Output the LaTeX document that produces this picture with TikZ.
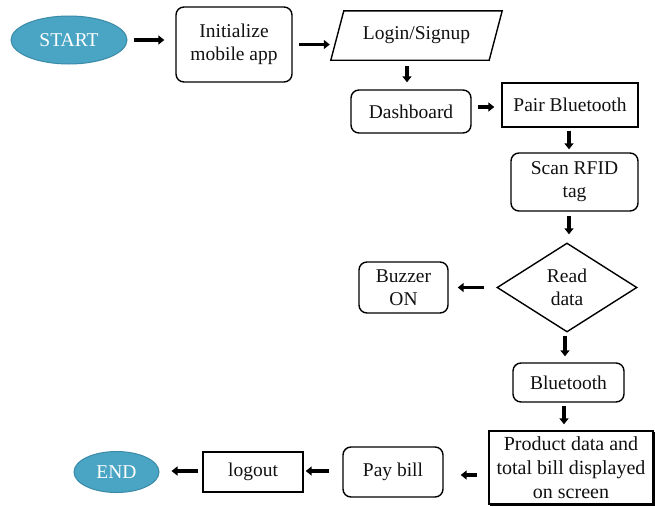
\documentclass[tikz,border=0pt]{standalone}
\usepackage{fontspec}
\setmainfont{Liberation Serif}
\newfontfamily\diagfont{Liberation Serif}
\usetikzlibrary{arrows.meta,shapes.geometric,calc}
\definecolor{termfill}{HTML}{4AA5C4}
\definecolor{termdraw}{HTML}{3A8AA8}
\definecolor{inkblack}{HTML}{111111}
\begin{document}
\begin{tikzpicture}[x=1pt,y=-1pt,
  every node/.style={inner sep=0pt,align=center,text=inkblack,font=\diagfont\fontsize{19.5}{23}\selectfont},
  term/.style={ellipse,fill=termfill,draw=termdraw,line width=1pt,text=white},
  rbox/.style={draw=black,line width=1.4pt,rounded corners=8pt},
  sbox/.style={draw=black,line width=1.4pt},
  arr/.style={line width=3.2pt,-{Triangle[length=6pt,width=9pt]}}]
\useasboundingbox[fill=white] (0,0) rectangle (655,506);
% nodes
\node[term,minimum width=116pt,minimum height=48pt] (start) at (69,40) {START};
\node[rbox,minimum width=116pt,minimum height=75pt] (init) at (234,44.5) {Initialize\\mobile app};
\node[minimum width=171pt,minimum height=49pt] (login) at (416.5,35.5) {Login/Signup};
\draw[line width=1.4pt] (login.south west) -- ($(login.south east)+(-13,0)$) -- (login.north east) -- ($(login.north west)+(13,0)$) -- cycle;
\node[rbox,minimum width=120pt,minimum height=43pt] (dash) at (411,111.5) {Dashboard};
\node[sbox,minimum width=136pt,minimum height=44pt] (pair) at (570,105) {Pair Bluetooth};
\node[rbox,minimum width=127pt,minimum height=58pt] (scan) at (574.5,182) {Scan RFID\\tag};
\node[diamond,draw=black,line width=1.4pt,minimum width=140pt,minimum height=89pt] (read) at (567,287.5) {Read\\data};
\node[rbox,minimum width=89pt,minimum height=51pt] (buzz) at (403.5,287.5) {Buzzer\\ON};
\node[rbox,minimum width=111pt,minimum height=39pt] (bt) at (568.5,382.5) {Bluetooth};
\node[sbox,minimum width=164pt,minimum height=73pt,font=\diagfont\fontsize{20}{24}\selectfont] (prod) at (571,467.5) {Product data and\\total bill displayed\\on screen};
\draw[line width=3pt] ($(prod.north east)+(0,2)$) -- ($(prod.south east)+(0,0)$) -- ($(prod.south west)+(2,0)$);
\node[rbox,minimum width=100pt,minimum height=50pt] (pay) at (393,472) {Pay bill};
\node[sbox,minimum width=100pt,minimum height=40pt] (logout) at (253,472) {logout};
\node[term,minimum width=85pt,minimum height=41pt] (end) at (116.5,472) {END};
% connectors
\draw[arr] ($(start.east)+(6,0)$) -- ($(start.east -| init.west)+(-11,0)$);
\draw[arr] ($(init.east)+(6,0)$) -- ($(init.east -| login.west)+(-1,0)$);
\draw[arr] ($(login.south)+(-9.5,6)$) -- ($(dash.north)+(-4,-7)$);
\draw[arr] ($(dash.east)+(6,-4.5)$) -- ($(pair.west)+(-7,2)$);
\draw[arr] ($(pair.south)+(-1,3)$) -- ($(scan.north)+(-5.5,-3)$);
\draw[arr] ($(scan.south)+(-5.5,4)$) -- ($(read.north)+(2,-8)$);
\draw[arr] ($(read.west)+(-12,0)$) -- ($(buzz.east)+(9,0)$);
\draw[arr] ($(read.south)+(-2,3)$) -- ($(bt.north)+(-3.5,-6)$);
\draw[arr] ($(bt.south)+(-4.5,3)$) -- ($(prod.north)+(-7,-6)$);
\draw[arr] ($(prod.west)+(-11,7.5)$) -- ($(pay.east)+(17,3)$);
\draw[arr] ($(pay.west)+(-13,-1)$) -- ($(logout.east)+(2,-1)$);
\draw[arr] ($(logout.west)+(-4,-1)$) -- ($(end.east)+(12,-1)$);
\end{tikzpicture}
\end{document}
